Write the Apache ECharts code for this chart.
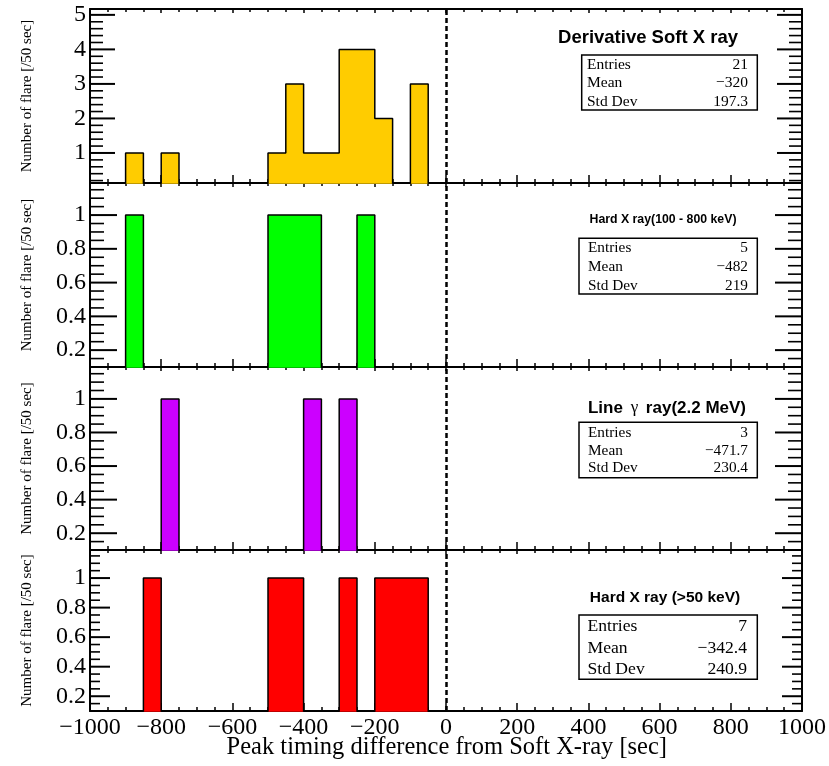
<!DOCTYPE html>
<html><head><meta charset="utf-8">
<script src="https://cdn.jsdelivr.net/npm/echarts@6/dist/echarts.min.js"></script>
<style>html,body{margin:0;padding:0;background:#fff}#c{width:829px;height:766px}</style>
</head><body><div id="c"></div>
<script>
// ---- data ----
const binStart = -900;
const binWidth = 50;
const softCounts    = [1,0,1,0,0,0,0,0,1,3,1,1,4,4,2,0,3,0];
const hard100Counts = [1,0,0,0,0,0,0,0,1,1,1,0,0,1,0,0,0,0];
const gammaCounts   = [0,0,1,0,0,0,0,0,0,0,1,0,1,0,0,0,0,0];
const hard50Counts  = [0,1,0,0,0,0,0,0,1,1,0,0,1,0,1,1,1,0];
const panelTitles = ['Derivative Soft X ray', 'Hard X ray(100 - 800 keV)', 'Line γ ray(2.2 MeV)', 'Hard X ray (>50 keV)'];
const statLabels = ['Entries', 'Mean', 'Std Dev'];
const statEntries = ['21', '5', '3', '7'];
const statMeans = ['\u2212320', '\u2212482', '\u2212471.7', '\u2212342.4'];
const statStdDev = ['197.3', '219', '230.4', '240.9'];
const yTicksCounts = [1, 2, 3, 4, 5];
const yTicksFrac = [0.2, 0.4, 0.6, 0.8, 1];
const xTickMin = -1000, xTickMax = 1000, xTickStep = 200;
const xTitle = 'Peak timing difference from Soft X-ray [sec]';
const yTitle = 'Number of flare [/50 sec]';

// ---- layout / style ----
const allCounts = [softCounts, hard100Counts, gammaCounts, hard50Counts];
const colors = ['#ffcc00', '#00ff00', '#cc00ff', '#ff0000'];
const layout = [
  {top: 9,   h: 174, yMin: 0.13, yMax: 5.17, major: yTicksCounts, minorStep: 0.2, tl: 25,
   title: {x: 648, y: 38, size: 18.5}, box: {x: 581.7, y: 55, w: 175.6, h: 55, rows: [65, 83, 101.7], size: 15.5, lx: 587, rx: 748}},
  {top: 183, h: 184, yMin: 0.1, yMax: 1.19, major: yTicksFrac, minorStep: 0.05, tl: 27,
   title: {x: 663, y: 220, size: 12.3}, box: {x: 579, y: 238.3, w: 178.3, h: 55.7, rows: [248, 267, 286], size: 15.3, lx: 588, rx: 748}},
  {top: 367, h: 183, yMin: 0.1, yMax: 1.19, major: yTicksFrac, minorStep: 0.05, tl: 27,
   title: {x: 667, y: 408, size: 17}, box: {x: 579, y: 422.3, w: 178.3, h: 55.4, rows: [432.7, 450.7, 468.3], size: 15.3, lx: 588, rx: 748}},
  {top: 550, h: 161, yMin: 0.1, yMax: 1.19, major: yTicksFrac, minorStep: 0.05, tl: 20,
   title: {x: 665, y: 598, size: 15.5}, box: {x: 579, y: 615, w: 178.3, h: 64.3, rows: [626.7, 648.3, 669.3], size: 17.6, lx: 587.5, rx: 747}}
];
const SERIF = 'Liberation Serif, Times New Roman, serif';
const SANS = 'Liberation Sans, Arial, Helvetica, sans-serif';

// tick positions (major + minor) for the y axis of a panel
function yTickList(L) {
  const out = [];
  const start = Math.ceil(L.yMin / L.minorStep - 1e-9);
  const end = Math.floor(L.yMax / L.minorStep + 1e-9);
  for (let k = start; k <= end; k++) {
    const v = +(k * L.minorStep).toFixed(4);
    const isMajor = L.major.some(m => Math.abs(m - v) < 1e-6) ? 1 : 0;
    out.push([xTickMin, v, isMajor]);
  }
  return out;
}
function histData(counts) {
  const d = [[binStart, 0]];
  counts.forEach((c, i) => d.push([binStart + i * binWidth, c]));
  d.push([binStart + counts.length * binWidth, 0]);
  return d;
}
const fmtX = v => v < 0 ? '\u2212' + Math.abs(v) : String(v);

const grid = [], xAxis = [], yAxis = [], series = [], graphic = [];
layout.forEach((L, i) => {
  grid.push({left: 90, right: 27, top: L.top, height: L.h, containLabel: false});
  const axLine = {show: true, onZero: false, lineStyle: {color: '#000', width: 2}};
  xAxis.push({
    type: 'value', gridIndex: i, position: 'bottom', min: xTickMin, max: xTickMax, interval: xTickStep,
    axisLine: axLine, splitLine: {show: false},
    axisTick: {show: true, inside: true, length: 8, lineStyle: {color: '#000', width: 1.5}},
    minorTick: {show: true, splitNumber: 4, length: 4, lineStyle: {color: '#000', width: 1.5}},
    axisLabel: {show: i === 3, formatter: fmtX, fontFamily: SERIF, fontSize: 24, color: '#000', margin: 5,
                showMinLabel: true, showMaxLabel: true}
  });
  xAxis.push({
    type: 'value', gridIndex: i, position: 'top', min: xTickMin, max: xTickMax, interval: xTickStep,
    axisLine: axLine, splitLine: {show: false},
    axisTick: {show: true, inside: true, length: 4, lineStyle: {color: '#000', width: 1.5}},
    minorTick: {show: true, splitNumber: 4, length: 3, lineStyle: {color: '#000', width: 1.5}},
    axisLabel: {show: false}
  });
  const base = {type: 'value', gridIndex: i, min: L.yMin, max: L.yMax, splitLine: {show: false}};
  yAxis.push(Object.assign({}, base, {
    position: 'left', axisLine: axLine, axisTick: {show: false},
    axisLabel: {show: true, customValues: L.major, fontFamily: SERIF, fontSize: 24, color: '#000', margin: 4},
    name: yTitle, nameLocation: 'middle', nameGap: 55,
    nameTextStyle: {fontFamily: SERIF, fontSize: 15, color: '#000'}
  }));
  yAxis.push(Object.assign({}, base, {
    position: 'right', axisLine: axLine, axisTick: {show: false}, axisLabel: {show: false}
  }));
  series.push({
    type: 'line', xAxisIndex: 2 * i, yAxisIndex: 2 * i, step: 'end', symbol: 'none', showSymbol: false,
    data: histData(allCounts[i]), clip: true, silent: true, animation: false,
    lineStyle: {color: '#000', width: 1.5},
    areaStyle: {color: colors[i], opacity: 1, origin: 0},
    markLine: {silent: true, symbol: ['none', 'none'], label: {show: false}, animation: false,
      lineStyle: {color: '#000', type: [5, 3], width: 2.5}, data: [{xAxis: 0}]}
  });
  // y-axis ticks (left & right, inside), placed through the axis scale
  const tl = L.tl;
  series.push({
    type: 'custom', xAxisIndex: 2 * i, yAxisIndex: 2 * i, silent: true, animation: false, z: 5,
    data: yTickList(L),
    renderItem: (params, api) => {
      const pL = api.coord([xTickMin, api.value(1)]);
      const pR = api.coord([xTickMax, api.value(1)]);
      const major = api.value(2);
      const len = major ? tl : Math.round(tl / 2);
      const st = {stroke: '#000', lineWidth: major ? 2 : 1.6};
      return {type: 'group', children: [
        {type: 'line', shape: {x1: pL[0], y1: pL[1], x2: pL[0] + len, y2: pL[1]}, style: st},
        {type: 'line', shape: {x1: pR[0] - len, y1: pR[1], x2: pR[0], y2: pR[1]}, style: st}
      ]};
    }
  });
  // title
  const T = L.title;
  if (i === 2) {
    graphic.push({type: 'text', x: T.x, y: T.y, style: {
      text: '{b|Line }{g|γ}{b| ray(2.2 MeV)}', align: 'center', verticalAlign: 'middle',
      rich: {b: {fontFamily: SANS, fontWeight: 'bold', fontSize: T.size, fill: '#000'},
             g: {fontFamily: SERIF, fontSize: T.size, fill: '#000', padding: [0, 3, 0, 3]}}}});
  } else {
    graphic.push({type: 'text', x: T.x, y: T.y, style: {
      text: panelTitles[i], align: 'center', verticalAlign: 'middle',
      font: 'bold ' + T.size + 'px ' + SANS, fill: '#000'}});
  }
  // stats box
  const B = L.box;
  graphic.push({type: 'rect', shape: {x: B.x, y: B.y, width: B.w, height: B.h},
    style: {fill: '#fff', stroke: '#000', lineWidth: 1.5}});
  const vals = [statEntries[i], statMeans[i], statStdDev[i]];
  statLabels.forEach((lab, r) => {
    graphic.push({type: 'text', x: B.lx, y: B.rows[r], style: {text: lab, align: 'left', verticalAlign: 'middle',
      font: B.size + 'px ' + SERIF, fill: '#000'}});
    graphic.push({type: 'text', x: B.rx, y: B.rows[r], style: {text: vals[r], align: 'right', verticalAlign: 'middle',
      font: B.size + 'px ' + SERIF, fill: '#000'}});
  });
});
graphic.push({type: 'text', x: 667, y: 748, style: {text: xTitle, align: 'right', verticalAlign: 'middle',
  font: '24.5px ' + SERIF, fill: '#000'}});

const chart = echarts.init(document.getElementById('c'), null, {renderer: 'canvas'});
chart.setOption({animation: false, backgroundColor: '#fff', grid, xAxis, yAxis, series, graphic});
</script></body></html>
